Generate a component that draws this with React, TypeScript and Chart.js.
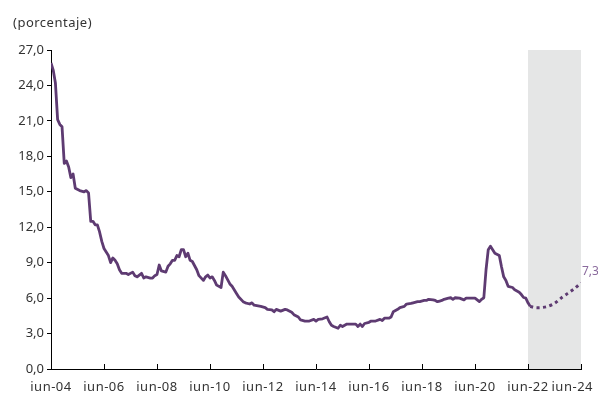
import React, { useEffect, useRef } from "react";
import { Chart, registerables } from "chart.js";

Chart.register(...registerables);

// months since jun-04
const actualMonths = [
  0, 1, 2, 3, 4, 5, 6, 7, 8, 9, 10, 11, 13, 15, 16, 17, 18, 19, 20, 21, 22, 23, 24, 25, 26, 27, 28, 29, 30, 31, 32,
  34, 35, 37, 38, 39, 41, 42, 43, 45, 46, 47, 48, 49, 50, 52, 53, 54, 55, 56, 57, 58, 59, 60, 61, 62, 63, 64, 66,
  67, 69, 70, 71, 72, 73, 74, 75, 76, 77, 78, 79, 81, 82, 84, 85, 87, 88, 90, 91, 92, 95, 97, 98, 100, 101, 102,
  104, 106, 107, 109, 110, 112, 113, 115, 117, 119, 120, 121, 123, 125, 126, 127, 128, 130, 131, 132, 134, 136,
  138, 139, 140, 141, 142, 144, 145, 147, 149, 150, 151, 153, 154, 155, 157, 158, 160, 161, 163, 164, 166, 167,
  169, 170, 171, 173, 174, 175, 176, 177, 178, 180, 181, 182, 183, 185, 187, 188, 191, 192, 193, 194, 195, 196,
  197, 198, 199, 200, 201, 203, 204, 205, 206, 207, 209, 210, 212, 213, 214, 215, 216, 217,
];
const actualValues = [
  25.9, 25.3, 24.2, 21.1, 20.7, 20.5, 17.4, 17.6, 17.1, 16.2, 16.5, 15.3, 15.1, 15.0, 15.1, 14.9, 12.5, 12.5, 12.2,
  12.2, 11.6, 10.8, 10.2, 9.9, 9.6, 9.0, 9.4, 9.2, 8.9, 8.4, 8.1, 8.1, 8.0, 8.2, 7.9, 7.8, 8.1, 7.7, 7.8, 7.7, 7.7,
  7.9, 8.0, 8.8, 8.3, 8.2, 8.7, 8.9, 9.2, 9.2, 9.6, 9.5, 10.1, 10.1, 9.5, 9.8, 9.2, 9.1, 8.4, 7.9, 7.5, 7.8, 7.95,
  7.7, 7.8, 7.5, 7.1, 7.0, 6.9, 8.2, 7.9, 7.2, 7.0, 6.4, 6.1, 5.7, 5.6, 5.5, 5.6, 5.4, 5.3, 5.2, 5.05, 5.0, 4.85,
  5.05, 4.9, 5.05, 5.0, 4.8, 4.6, 4.4, 4.15, 4.06, 4.06, 4.2, 4.06, 4.2, 4.25, 4.4, 4.0, 3.7, 3.6, 3.45, 3.7, 3.6,
  3.8, 3.8, 3.8, 3.6, 3.8, 3.6, 3.85, 3.95, 4.06, 4.06, 4.2, 4.1, 4.3, 4.3, 4.4, 4.85, 5.05, 5.2, 5.3, 5.5, 5.55,
  5.6, 5.7, 5.7, 5.8, 5.8, 5.9, 5.85, 5.8, 5.7, 5.75, 5.8, 5.9, 6.0, 6.03, 5.9, 6.03, 6.0, 5.85, 6.0, 6.0, 6.0,
  5.85, 5.7, 5.9, 6.03, 8.4, 10.1, 10.4, 10.1, 9.8, 9.6, 8.65, 7.8, 7.5, 7.0, 6.9, 6.7, 6.5, 6.3, 6.05, 6.0, 5.6,
  5.3,
];
const forecastMonths = [217, 219, 222, 225, 228, 231, 234, 237, 240];
const forecastValues = [5.3, 5.2, 5.2, 5.3, 5.55, 6.0, 6.4, 6.8, 7.3];

const xTickMonths = [0, 24, 48, 72, 96, 120, 144, 168, 192, 216, 240];
const xTickLabels = ["iun-04", "iun-06", "iun-08", "iun-10", "iun-12", "iun-14", "iun-16", "iun-18", "iun-20", "iun-22", "iun-24"];
const shadeStart = 216;
const shadeEnd = 240;
const endLabel = "7,3";
const unitLabel = "(porcentaje)";

const LINE = "#5e3b72";
const LABEL = "#8a6a9d";
const TEXT = "#333333";
const FONT = "'Noto Sans', sans-serif";

export default function App() {
  const ref = useRef<HTMLCanvasElement>(null);

  useEffect(() => {
    if (!ref.current) return;
    const decor = {
      id: "decor",
      beforeDatasetsDraw(chart: any) {
        const { ctx, scales } = chart;
        const x = scales.x, y = scales.y;
        ctx.save();
        ctx.fillStyle = "#e5e6e6";
        const x0 = x.getPixelForValue(shadeStart);
        const x1 = x.getPixelForValue(shadeEnd);
        const y0 = y.getPixelForValue(27);
        const y1 = y.getPixelForValue(0);
        ctx.fillRect(x0, y0, x1 - x0, y1 - y0);
        ctx.restore();
      },
      afterDraw(chart: any) {
        const { ctx, scales, chartArea, width } = chart;
        const x = scales.x, y = scales.y;
        ctx.save();
        ctx.strokeStyle = "#000";
        ctx.lineWidth = 1;
        xTickMonths.forEach((m) => {
          const px = Math.round(x.getPixelForValue(m)) + 0.5;
          ctx.beginPath();
          ctx.moveTo(px, chartArea.bottom);
          ctx.lineTo(px, chartArea.bottom - 5);
          ctx.stroke();
        });
        // x labels
        ctx.font = `13px ${FONT}`;
        ctx.fillStyle = TEXT;
        (ctx as any).letterSpacing = "0.5px";
        ctx.textBaseline = "alphabetic";
        xTickMonths.forEach((m, i) => {
          const px = x.getPixelForValue(m);
          const w = ctx.measureText(xTickLabels[i]).width;
          let left = px - w / 2;
          if (left + w > width - 5) left = width - 5 - w;
          ctx.textAlign = "left";
          ctx.fillText(xTickLabels[i], left, chartArea.bottom + 22);
        });
        ctx.textBaseline = "middle";
        ctx.textAlign = "left";
        ctx.fillText(unitLabel, 13, 23);
        (ctx as any).letterSpacing = "0px";
        const last = forecastValues.length - 1;
        const ex = x.getPixelForValue(forecastMonths[last]);
        const ey = y.getPixelForValue(forecastValues[last]);
        ctx.font = `12px ${FONT}`;
        ctx.fillStyle = LABEL;
        ctx.fillText(endLabel, ex + 1, ey - 11);
        ctx.restore();
      },
    };

    const chart = new Chart(ref.current, {
      type: "line",
      data: {
        datasets: [
          {
            data: actualMonths.map((m, i) => ({ x: m, y: actualValues[i] })),
            borderColor: LINE,
            borderWidth: 2.8,
            pointRadius: 0,
            tension: 0,
            borderJoinStyle: "round",
          },
          {
            data: forecastMonths.map((m, i) => ({ x: m, y: forecastValues[i] })),
            borderColor: LINE,
            borderWidth: 3,
            borderDash: [3, 3.5],
            pointRadius: 0,
            tension: 0.3,
          },
        ],
      },
      options: {
        responsive: false,
        animation: false,
        layout: { padding: { top: 50, right: 17, left: 0, bottom: 0 } },
        plugins: { legend: { display: false }, tooltip: { enabled: false } },
        scales: {
          x: {
            type: "linear",
            min: 0,
            max: 240,
            afterBuildTicks: (s: any) => {
              s.ticks = xTickMonths.map((v) => ({ value: v }));
            },
            afterFit: (s: any) => {
              s.height = 25;
              s.paddingLeft = 0;
              s.paddingRight = 0;
            },
            ticks: { display: false },
            grid: { display: true, drawOnChartArea: false, drawTicks: false },
            border: { display: true, color: "#000", width: 1 },
          },
          y: {
            min: 0,
            max: 27,
            afterFit: (s: any) => {
              s.width = 51;
            },
            ticks: {
              stepSize: 3,
              padding: 3,
              color: TEXT,
              font: { family: FONT, size: 13 },
              callback: (v: any) => Number(v).toFixed(1).replace(".", ","),
            },
            grid: { drawOnChartArea: false, tickLength: 4, color: "#000" },
            border: { display: true, color: "#000", width: 1 },
          },
        },
      },
      plugins: [decor],
    } as any);
    return () => chart.destroy();
  }, []);

  return (
    <div style={{ position: "fixed", left: 0, top: 0, width: 598, height: 394, background: "#fff" }}>
      <canvas ref={ref} width={598} height={394} style={{ width: 598, height: 394, display: "block" }} />
    </div>
  );
}
